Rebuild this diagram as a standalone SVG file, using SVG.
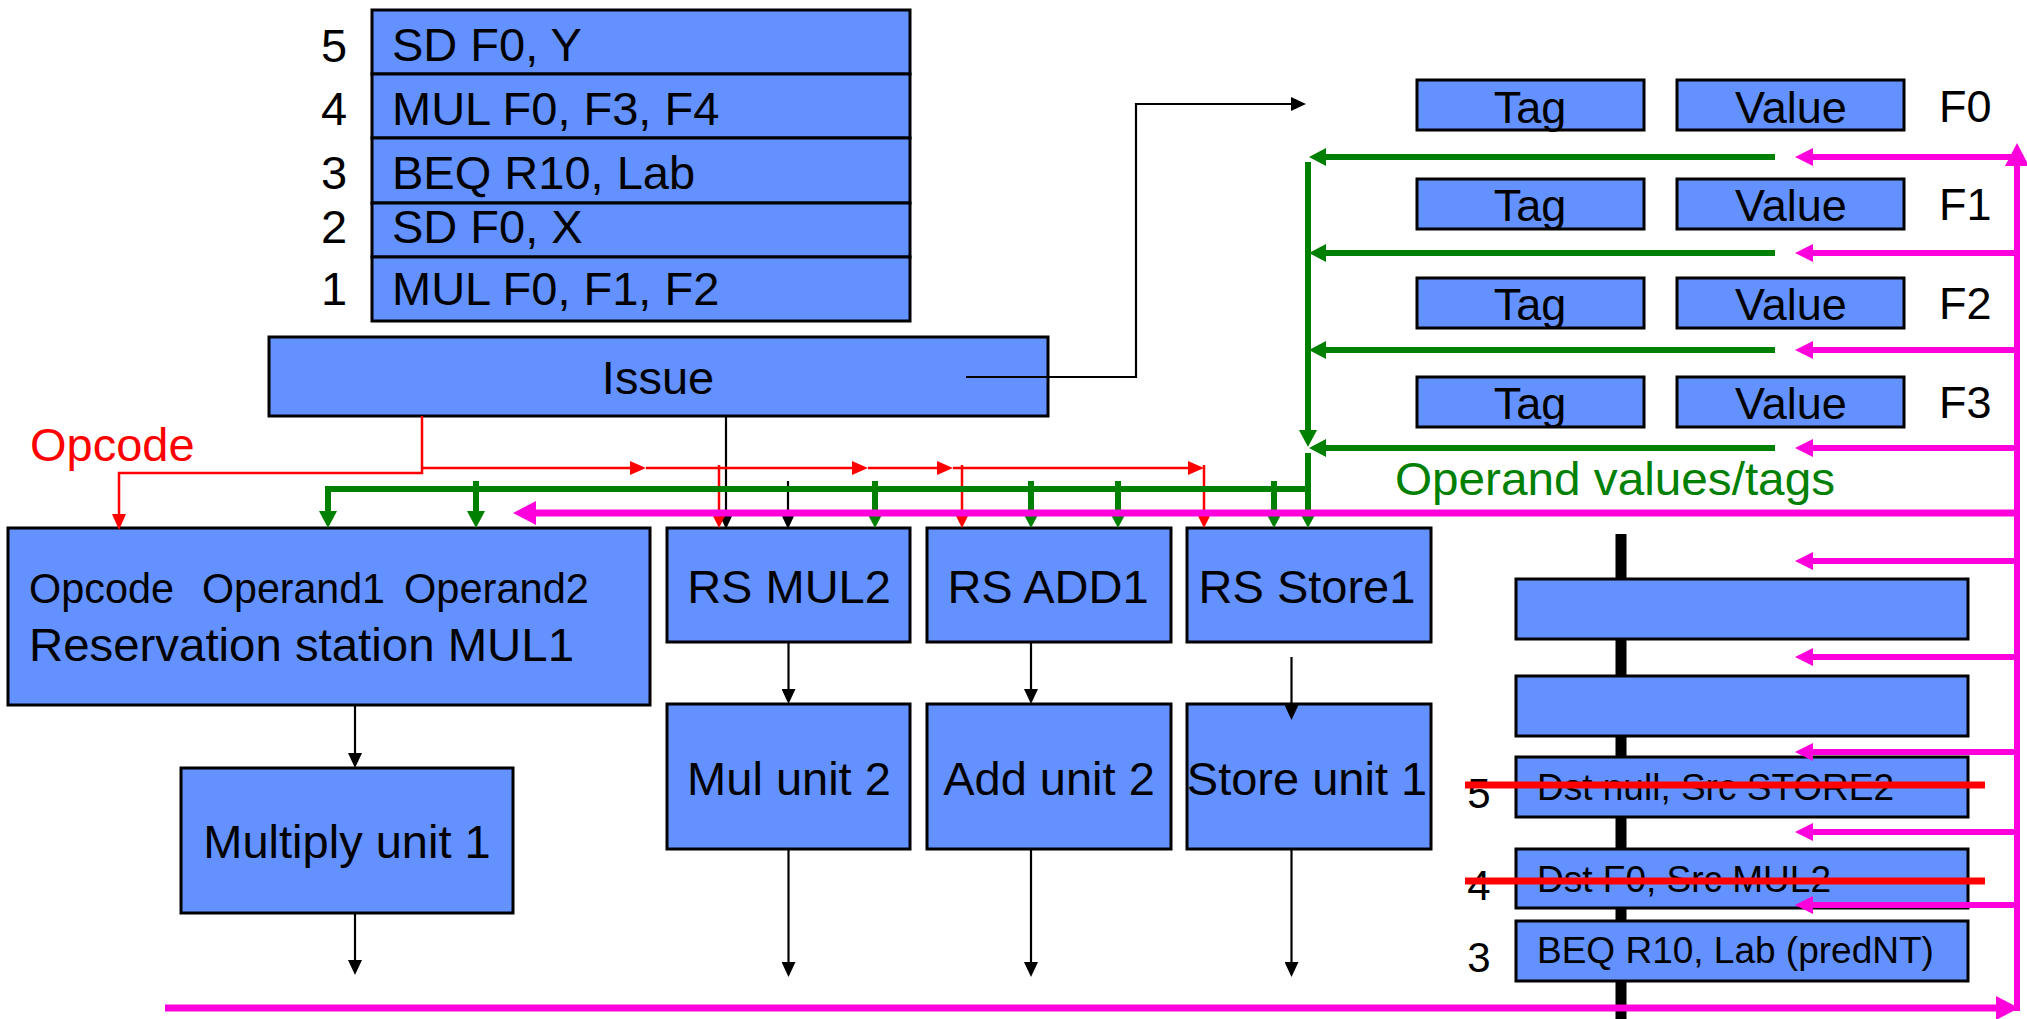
<svg xmlns="http://www.w3.org/2000/svg" width="2027" height="1019" viewBox="0 0 2027 1019">
<style>
.box{fill:#6391FF;stroke:#000;stroke-width:3}
.t{font-family:"Liberation Sans",Arial,sans-serif;fill:#000}
.t47{font-size:47px}
.t45{font-size:45px}
.t41{font-size:43px}
.t37{font-size:37px}
.mid{text-anchor:middle}
.k{fill:none;stroke:#000;stroke-width:2.2}
.r{fill:none;stroke:#FF0000;stroke-width:2.5}
.g{fill:none;stroke:#008000;stroke-width:6}
.m{fill:none;stroke:#FF00DC;stroke-width:6}
.mb{fill:none;stroke:#FF00DC;stroke-width:7}
</style>
<defs>
<marker id="ak" viewBox="0 0 15 14" refX="0" refY="7" markerWidth="15" markerHeight="14" markerUnits="userSpaceOnUse" orient="auto"><path d="M0,0 L15,7 L0,14 z" fill="#000"/></marker>
<marker id="ar" viewBox="0 0 16 14" refX="0" refY="7" markerWidth="16" markerHeight="14" markerUnits="userSpaceOnUse" orient="auto"><path d="M0,0 L16,7 L0,14 z" fill="#FF0000"/></marker>
<marker id="ars" viewBox="0 0 12 12" refX="0" refY="6" markerWidth="12" markerHeight="12" markerUnits="userSpaceOnUse" orient="auto"><path d="M0,0 L12,6 L0,12 z" fill="#FF0000"/></marker>
<marker id="ag" viewBox="0 0 17 18" refX="0" refY="9" markerWidth="17" markerHeight="18" markerUnits="userSpaceOnUse" orient="auto"><path d="M0,0 L17,9 L0,18 z" fill="#008000"/></marker>
<marker id="am" viewBox="0 0 18 18" refX="0" refY="9" markerWidth="18" markerHeight="18" markerUnits="userSpaceOnUse" orient="auto"><path d="M0,0 L18,9 L0,18 z" fill="#FF00DC"/></marker>
<marker id="amb" viewBox="0 0 23 24" refX="0" refY="12" markerWidth="23" markerHeight="24" markerUnits="userSpaceOnUse" orient="auto"><path d="M0,0 L23,12 L0,24 z" fill="#FF00DC"/></marker>
</defs>
<rect width="2027" height="1019" fill="#fff"/>

<g id="instruction-queue">
<rect class="box" x="372" y="10" width="538" height="64"/>
<rect class="box" x="372" y="74" width="538" height="64"/>
<rect class="box" x="372" y="138" width="538" height="65"/>
<rect class="box" x="372" y="203" width="538" height="54"/>
<rect class="box" x="372" y="257" width="538" height="64"/>
<text class="t t47 mid" x="334" y="62">5</text>
<text class="t t47 mid" x="334" y="125">4</text>
<text class="t t47 mid" x="334" y="189">3</text>
<text class="t t47 mid" x="334" y="243">2</text>
<text class="t t47 mid" x="334" y="305">1</text>
<text class="t t47" x="392" y="61">SD F0, Y</text>
<text class="t t47" x="392" y="125">MUL F0, F3, F4</text>
<text class="t t47" x="392" y="189">BEQ R10, Lab</text>
<text class="t t47" x="392" y="243">SD F0, X</text>
<text class="t t47" x="392" y="305">MUL F0, F1, F2</text>
</g>

<g id="issue">
<rect class="box" x="269" y="337" width="779" height="79"/>
<text class="t t47 mid" x="658" y="394">Issue</text>
</g>

<g id="register-file">
<rect class="box" x="1417" y="80" width="227" height="50"/>
<rect class="box" x="1677" y="80" width="227" height="50"/>
<rect class="box" x="1417" y="179" width="227" height="50"/>
<rect class="box" x="1677" y="179" width="227" height="50"/>
<rect class="box" x="1417" y="278" width="227" height="50"/>
<rect class="box" x="1677" y="278" width="227" height="50"/>
<rect class="box" x="1417" y="377" width="227" height="50"/>
<rect class="box" x="1677" y="377" width="227" height="50"/>
<text class="t t45 mid" x="1530" y="123">Tag</text>
<text class="t t45 mid" x="1791" y="123">Value</text>
<text class="t t45" x="1939" y="122">F0</text>
<text class="t t45 mid" x="1530" y="221">Tag</text>
<text class="t t45 mid" x="1791" y="221">Value</text>
<text class="t t45" x="1939" y="220">F1</text>
<text class="t t45 mid" x="1530" y="320">Tag</text>
<text class="t t45 mid" x="1791" y="320">Value</text>
<text class="t t45" x="1939" y="319">F2</text>
<text class="t t45 mid" x="1530" y="419">Tag</text>
<text class="t t45 mid" x="1791" y="419">Value</text>
<text class="t t45" x="1939" y="418">F3</text>
</g>

<g id="rs-mul1">
<rect class="box" x="8" y="528" width="642" height="177"/>
<text class="t t41" x="29" y="603" textLength="145" lengthAdjust="spacingAndGlyphs">Opcode</text>
<text class="t t41" x="202" y="603" textLength="183" lengthAdjust="spacingAndGlyphs">Operand1</text>
<text class="t t41" x="404" y="603" textLength="185" lengthAdjust="spacingAndGlyphs">Operand2</text>
<text class="t t47" x="29" y="661" textLength="545" lengthAdjust="spacingAndGlyphs">Reservation station MUL1</text>
</g>
<g id="rs-mul2">
<rect class="box" x="667" y="528" width="243" height="114"/>
<text class="t t47 mid" x="789" y="603">RS MUL2</text>
</g>
<g id="rs-add1">
<rect class="box" x="927" y="528" width="244" height="114"/>
<text class="t t47 mid" x="1048" y="603">RS ADD1</text>
</g>
<g id="rs-store1">
<rect class="box" x="1187" y="528" width="244" height="114"/>
<text class="t t47 mid" x="1307" y="603">RS Store1</text>
</g>

<g id="multiply-unit-1">
<rect class="box" x="181" y="768" width="332" height="145"/>
<text class="t t47 mid" x="347" y="858">Multiply unit 1</text>
</g>
<g id="mul-unit-2">
<rect class="box" x="667" y="704" width="243" height="145"/>
<text class="t t47 mid" x="789" y="795">Mul unit 2</text>
</g>
<g id="add-unit-2">
<rect class="box" x="927" y="704" width="244" height="145"/>
<text class="t t47 mid" x="1049" y="795">Add unit 2</text>
</g>
<g id="store-unit-1">
<rect class="box" x="1187" y="704" width="244" height="145"/>
<text class="t t47 mid" x="1307" y="795">Store unit 1</text>
</g>

<g id="reorder-buffer">
<rect x="1615.5" y="534" width="11" height="485" fill="#000"/>
<rect class="box" x="1516" y="579" width="452" height="60"/>
<rect class="box" x="1516" y="676" width="452" height="60"/>
<rect class="box" x="1516" y="757" width="452" height="60"/>
<rect class="box" x="1516" y="849" width="452" height="59"/>
<rect class="box" x="1516" y="921" width="452" height="60"/>
<text class="t t37" x="1537" y="800">Dst null, Src STORE2</text>
<text class="t t37" x="1537" y="892">Dst F0, Src MUL2</text>
<text class="t t37" x="1537" y="963">BEQ R10, Lab (predNT)</text>
<text class="t mid" style="font-size:42px" x="1479" y="808">5</text>
<text class="t mid" style="font-size:42px" x="1479" y="900">4</text>
<text class="t mid" style="font-size:42px" x="1479" y="972">3</text>
</g>

<g id="labels">
<text class="t t47" x="30" y="461" style="fill:#FF0000">Opcode</text>
<text class="t t47" x="1395" y="495" style="fill:#008000" textLength="440" lengthAdjust="spacingAndGlyphs">Operand values/tags</text>
</g>

<g id="connectors">
<path class="k" d="M966,377 H1136 V104 H1291" marker-end="url(#ak)"/>
<path class="k" d="M726,416 V514" marker-end="url(#ak)"/>
<path class="k" d="M788,481 V514" marker-end="url(#ak)"/>
<path class="k" d="M355,705 V753" marker-end="url(#ak)"/>
<path class="k" d="M788.5,642 V689" marker-end="url(#ak)"/>
<path class="k" d="M1031,642 V689" marker-end="url(#ak)"/>
<path class="k" d="M1291.5,657 V705" marker-end="url(#ak)"/>
<path class="k" d="M355,913 V960" marker-end="url(#ak)"/>
<path class="k" d="M788.5,849 V962" marker-end="url(#ak)"/>
<path class="k" d="M1031,849 V962" marker-end="url(#ak)"/>
<path class="k" d="M1291.5,849 V962" marker-end="url(#ak)"/>
<path class="r" d="M422,416 V473 H119 V514" marker-end="url(#ar)"/>
<path class="r" d="M422,468 H630" marker-end="url(#ar)"/>
<path class="r" d="M646,468 H852" marker-end="url(#ar)"/>
<path class="r" d="M868,468 H937" marker-end="url(#ar)"/>
<path class="r" d="M953,468 H1188" marker-end="url(#ar)"/>
<path class="r" d="M719,465 V516" marker-end="url(#ars)"/>
<path class="r" d="M962,465 V516" marker-end="url(#ars)"/>
<path class="r" d="M1204,465 V516" marker-end="url(#ars)"/>
<path class="g" d="M1308,162 V430" marker-end="url(#ag)"/>
<path class="g" d="M1308,453 V511" marker-end="url(#ag)"/>
<path class="g" d="M1775,157 H1326" marker-end="url(#ag)"/>
<path class="g" d="M1775,253 H1326" marker-end="url(#ag)"/>
<path class="g" d="M1775,350 H1326" marker-end="url(#ag)"/>
<path class="g" d="M1775,448 H1326" marker-end="url(#ag)"/>
<path class="g" d="M1311,489 H328 V511" marker-end="url(#ag)"/>
<path class="g" d="M476,481 V511" marker-end="url(#ag)"/>
<path class="g" d="M875,481 V511" marker-end="url(#ag)"/>
<path class="g" d="M1031,481 V511" marker-end="url(#ag)"/>
<path class="g" d="M1118,481 V511" marker-end="url(#ag)"/>
<path class="g" d="M1274,481 V511" marker-end="url(#ag)"/>
<path class="mb" d="M2017,513 H536" marker-end="url(#amb)"/>
<path class="mb" d="M165,1008 H1996" marker-end="url(#amb)"/>
<path class="m" d="M2017,1011 V166" marker-end="url(#amb)"/>
<path class="m" d="M2017,157 H1813" marker-end="url(#am)"/>
<path class="m" d="M2017,253 H1813" marker-end="url(#am)"/>
<path class="m" d="M2017,350 H1813" marker-end="url(#am)"/>
<path class="m" d="M2017,448 H1813" marker-end="url(#am)"/>
<path class="m" d="M2017,561 H1813" marker-end="url(#am)"/>
<path class="m" d="M2017,657 H1813" marker-end="url(#am)"/>
<path class="m" d="M2017,752 H1813" marker-end="url(#am)"/>
<path class="m" d="M2017,832 H1813" marker-end="url(#am)"/>
<path class="m" d="M2017,905 H1813" marker-end="url(#am)"/>
</g>

<g id="strikes">
<line x1="1465" y1="785" x2="1985" y2="785" stroke="#FF0000" stroke-width="7"/>
<line x1="1465" y1="881" x2="1985" y2="881" stroke="#FF0000" stroke-width="7"/>
</g>
</svg>
